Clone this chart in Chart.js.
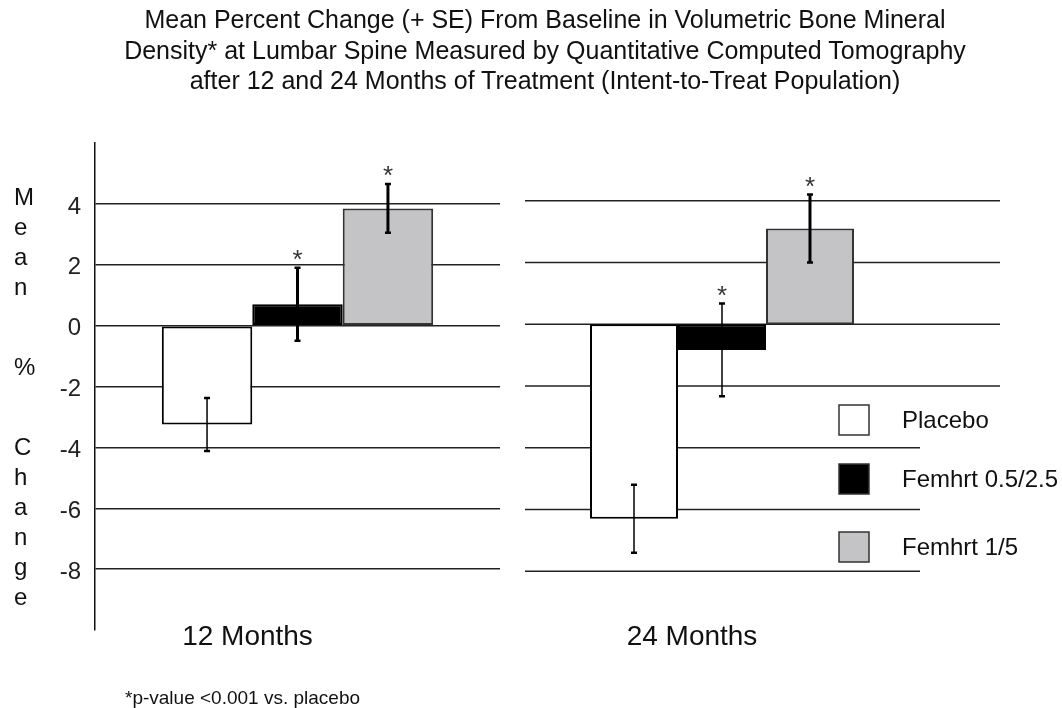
<!DOCTYPE html>
<html>
<head>
<meta charset="utf-8">
<script src="https://cdn.jsdelivr.net/npm/chart.js@4.4.1/dist/chart.umd.min.js"></script>
<style>
  body { margin: 0; background: #fff; font-family: "Liberation Sans", Arial, sans-serif; }
  #wrap { position: relative; width: 1062px; height: 708px; overflow: hidden; }
  canvas { position: absolute; left: 0; top: 0; }
  #title { position: absolute; left: 0; top: 4px; width: 1090px; text-align: center;
           font-size: 25px; line-height: 30.5px; color: #111; }
  #note { position: absolute; left: 125px; top: 688px; font-size: 19px; line-height: 19px; color: #111; }
</style>
</head>
<body>
<div id="wrap">
  <canvas id="c12" width="1062" height="708"></canvas>
  <canvas id="c24" width="1062" height="708"></canvas>
  <div id="title">Mean Percent Change (+ SE) From Baseline in Volumetric Bone Mineral<br>Density* at Lumbar Spine Measured by Quantitative Computed Tomography<br>after 12 and 24 Months of Treatment (Intent-to-Treat Population)</div>
  <div id="note">*p-value &lt;0.001 vs. placebo</div>
</div>
<script>
const groups = ["12 Months", "24 Months"];
const series = ["Placebo", "Femhrt 0.5/2.5", "Femhrt 1/5"];
const fills = ["#ffffff", "#000000", "#c4c3c6"];

const mean12 = [-3.25, 0.7, 3.85];
const se12 = [0.87, 1.2, 0.8];
const sig12 = ["", "*", "*"];

const mean24 = [-6.3, -0.83, 3.1];
const se24 = [1.1, 1.5, 1.1];
const sig24 = ["", "*", "*"];

const yTicks = [4, 2, 0, -2, -4, -6, -8];

const FONT = "'Liberation Sans', Arial, sans-serif";
Chart.defaults.font.family = FONT;
Chart.defaults.color = "#111";
Chart.defaults.animation = false;

// error bars + asterisks, drawn over the bars
const errBars = {
  id: "errBars",
  afterDatasetsDraw(chart, args, opts) {
    const ctx = chart.ctx;
    const y = chart.scales.y;
    chart.data.datasets.forEach((ds, i) => {
      const bar = chart.getDatasetMeta(i).data[0];
      const v = ds.data[0];
      const hi = y.getPixelForValue(v + opts.se[i]);
      const lo = y.getPixelForValue(v - opts.se[i]);
      ctx.save();
      ctx.strokeStyle = "#000";
      ctx.lineWidth = opts.widths[i];
      ctx.beginPath();
      ctx.moveTo(bar.x, hi);
      ctx.lineTo(bar.x, lo);
      ctx.stroke();
      ctx.lineWidth = 2.5;
      ctx.beginPath();
      ctx.moveTo(bar.x - 3, hi);
      ctx.lineTo(bar.x + 3, hi);
      ctx.moveTo(bar.x - 3, lo);
      ctx.lineTo(bar.x + 3, lo);
      ctx.stroke();
      if (opts.sig[i]) {
        ctx.fillStyle = "#333";
        ctx.font = "26px " + FONT;
        ctx.textAlign = "center";
        ctx.textBaseline = "alphabetic";
        ctx.fillText(opts.sig[i], bar.x, hi);
      }
      ctx.restore();
    });
  }
};

// category label sits a bit up and left of the bar group
const groupLabel = {
  id: "groupLabel",
  afterDraw(chart, args, opts) {
    const ctx = chart.ctx, x = chart.scales.x;
    ctx.save();
    ctx.font = "28px " + FONT;
    ctx.fillStyle = "#111";
    ctx.textAlign = "center";
    ctx.textBaseline = "alphabetic";
    ctx.fillText(chart.data.labels[0], x.getPixelForTick(0) + opts.shift, opts.baseline);
    ctx.restore();
  }
};

// stacked letters of the y title
const yTitle = {
  id: "yTitle",
  afterDraw(chart) {
    const ctx = chart.ctx;
    ctx.save();
    ctx.font = "24px " + FONT;
    ctx.fillStyle = "#111";
    ctx.textAlign = "left";
    let yy = 205;
    for (const ch of "Mean % Change") {
      if (ch === " ") { yy += 50; continue; }
      ctx.fillText(ch, 14, yy);
      yy += 30;
    }
    ctx.restore();
  }
};

// right panel gridlines run on past the plot area
const gridExt = {
  id: "gridExt",
  beforeDatasetsDraw(chart, args, opts) {
    const ctx = chart.ctx, y = chart.scales.y, a = chart.chartArea;
    ctx.save();
    ctx.strokeStyle = "#222";
    ctx.lineWidth = 1.5;
    yTicks.forEach((t) => {
      const py = y.getPixelForValue(t);
      ctx.beginPath();
      ctx.moveTo(a.left, py);
      ctx.lineTo(a.right + opts.extend, py);
      ctx.stroke();
    });
    ctx.restore();
  }
};

const keyLegend = {
  id: "keyLegend",
  afterDraw(chart, args, opts) {
    const ctx = chart.ctx;
    ctx.save();
    ctx.fillStyle = "#fff";
    ctx.fillRect(opts.boxX + 81, opts.rows[0] - 26, 200, opts.rows[2] - opts.rows[0] + 56);
    series.forEach((name, i) => {
      const cy = opts.rows[i];
      ctx.fillStyle = fills[i];
      ctx.fillRect(opts.boxX, cy - 15, 30, 30);
      ctx.strokeStyle = "#333";
      ctx.lineWidth = 1.5;
      ctx.strokeRect(opts.boxX, cy - 15, 30, 30);
      ctx.fillStyle = "#111";
      ctx.font = "24px " + FONT;
      ctx.textAlign = "left";
      ctx.textBaseline = "middle";
      ctx.fillText(name, opts.textX, cy + 1);
    });
    ctx.restore();
  }
};

function barSets(means) {
  return series.map((s, i) => ({
    label: s,
    data: [means[i]],
    backgroundColor: fills[i],
    borderColor: i == 2 ? "#333" : "#000",
    borderWidth: 2,
    borderSkipped: false,
    categoryPercentage: 0.67,
    barPercentage: 1,
  }));
}

new Chart(document.getElementById("c12"), {
  type: "bar",
  data: { labels: [groups[0]], datasets: barSets(mean12) },
  options: {
    responsive: false,
    layout: { padding: { top: 143, right: 562, left: 0, bottom: 0 } },
    scales: {
      x: {
        grid: { display: false },
        border: { display: false },
        ticks: { display: false },
        afterFit(s) { s.height = 78; },
      },
      y: {
        min: -10,
        max: 6,
        ticks: {
          stepSize: 2,
          font: { size: 24 },
          color: "#222",
          padding: 14,
          labelOffset: 3,
          callback: (v) => (yTicks.includes(v) ? v : ""),
        },
        grid: {
          color: (c) => (yTicks.includes(c.tick.value) ? "#222" : "rgba(0,0,0,0)"),
          lineWidth: 1.5,
          drawTicks: false,
        },
        border: { color: "#111", width: 1.5 },
        afterFit(s) { s.width = 95; },
      },
    },
    plugins: {
      legend: { display: false },
      tooltip: { enabled: false },
      errBars: { se: se12, sig: sig12, widths: [1.5, 3, 3] },
      groupLabel: { shift: -50, baseline: 645 },
    },
  },
  plugins: [errBars, yTitle, groupLabel],
});

new Chart(document.getElementById("c24"), {
  type: "bar",
  data: { labels: [groups[1]], datasets: barSets(mean24) },
  options: {
    responsive: false,
    layout: { padding: { top: 139, right: 143, left: 525, bottom: 0 } },
    scales: {
      x: {
        grid: { display: false },
        border: { display: false },
        ticks: { display: false },
        afterFit(s) { s.height = 75; },
      },
      y: { display: false, min: -10, max: 6 },
    },
    plugins: {
      legend: { display: false },
      tooltip: { enabled: false },
      errBars: { se: se24, sig: sig24, widths: [1.5, 1.5, 3] },
      gridExt: { extend: 81 },
      keyLegend: { boxX: 839, textX: 902, rows: [420, 479, 547] },
      groupLabel: { shift: -30, baseline: 645 },
    },
  },
  plugins: [gridExt, errBars, keyLegend, groupLabel],
});
</script>
</body>
</html>
